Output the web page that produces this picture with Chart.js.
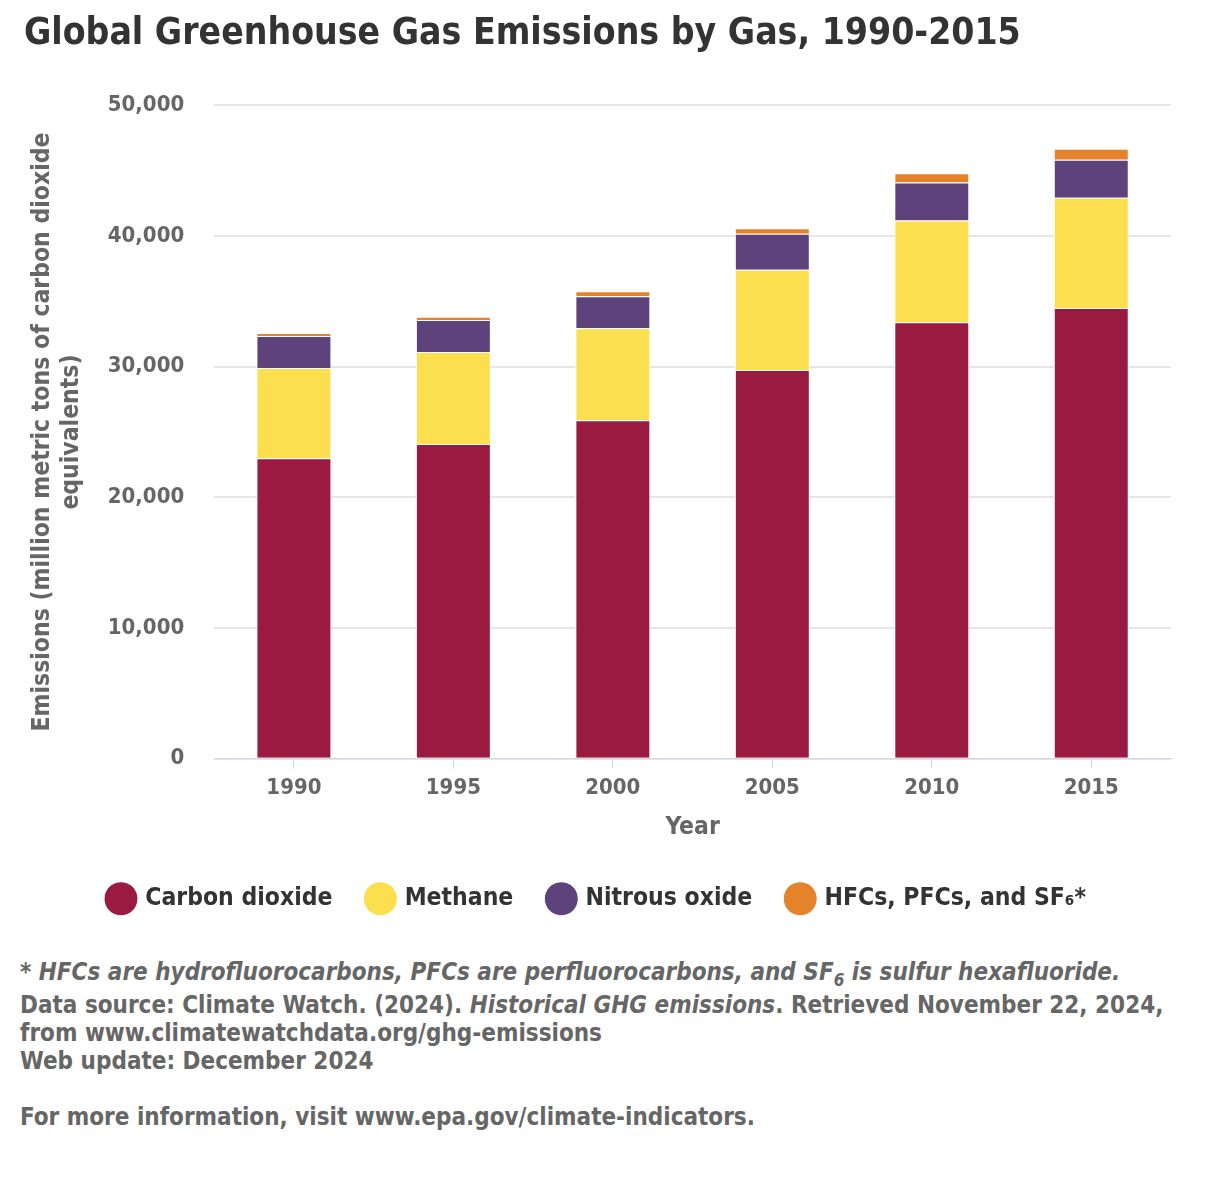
<!DOCTYPE html>
<html>
<head>
<meta charset="utf-8">
<script src="https://cdn.jsdelivr.net/npm/chart.js@4"></script>
<style>
	body { margin: 0; background: #fff; font-family: "DejaVu Sans Condensed", "DejaVu Sans", sans-serif; }
	#wrap { position: relative; width: 1213px; height: 929px; }
	.notes { margin: 29px 0 0 20px; color: #666; font-size: 24px; font-weight: bold; line-height: 28px; width: 1175px; }
	.notes p { margin: 0; }
	.notes p.first { margin-bottom: 5px; }
	.notes sub { font-size: 17px; line-height: 0; }
	.gap { height: 28px; }
</style>
</head>
<body>
<div id="wrap"><canvas id="canvas"></canvas></div>
<div class="notes">
	<p class="first"><i>* HFCs are hydrofluorocarbons, PFCs are perfluorocarbons, and SF<sub>6</sub> is sulfur hexafluoride.</i></p>
	<p>Data source: Climate Watch. (2024). <i>Historical GHG emissions</i>. Retrieved November 22, 2024, from www.climatewatchdata.org/ghg-emissions</p>
	<p>Web update: December 2024</p>
	<div class="gap"></div>
	<p>For more information, visit www.epa.gov/climate-indicators.</p>
</div>
<script>
const years = ["1990", "1995", "2000", "2005", "2010", "2015"];
const carbonDioxide = [23000, 24080, 25900, 29750, 33400, 34500];
const methane = [6900, 7050, 7050, 7670, 7800, 8440];
const nitrousOxide = [2450, 2450, 2450, 2760, 2900, 2900];
const fluorinated = [230, 250, 380, 420, 700, 850];

const FONT = "DejaVu Sans Condensed";
const context = document.getElementById("canvas").getContext("2d");

function makeSet(label, data, color) {
	return {
		label: label,
		data: data,
		backgroundColor: color,
		borderColor: "#ffffff",
		borderWidth: 1,
		categoryPercentage: 1,
		barPercentage: 0.47,
	};
}

new Chart(context, {
	type: "bar",
	data: {
		labels: years,
		datasets: [
			makeSet("Carbon dioxide", carbonDioxide, "#9b1a41"),
			makeSet("Methane", methane, "#fcdf4f"),
			makeSet("Nitrous oxide", nitrousOxide, "#5d427b"),
			makeSet("HFCs, PFCs, and SF\u2086*", fluorinated, "#e5832a"),
		],
	},
	options: {
		responsive: true,
		maintainAspectRatio: false,
		animation: false,
		layout: { padding: { left: 24, right: 42, top: 10, bottom: 8 } },
		plugins: {
			title: {
				display: true,
				text: "Global Greenhouse Gas Emissions by Gas, 1990-2015",
				align: "start",
				color: "#333333",
				font: { family: FONT, size: 37, weight: "bold" },
				padding: { top: 2, bottom: 49 },
			},
			legend: {
				position: "bottom",
				labels: {
					usePointStyle: true,
					pointStyle: "circle",
					boxWidth: 24,
					boxHeight: 24,
					padding: 36,
					color: "#333333",
					font: { family: FONT, size: 24.5, weight: "bold" },
				},
			},
			tooltip: { enabled: false },
		},
		scales: {
			x: {
				stacked: true,
				grid: { drawOnChartArea: false, drawTicks: true, tickLength: 10, tickColor: "#ccd6eb", offset: false },
				border: { color: "#ccd6eb", width: 1 },
				ticks: { color: "#666666", padding: 6, font: { family: FONT, size: 22, weight: "bold" } },
				title: {
					display: true,
					text: "Year",
					color: "#666666",
					font: { family: FONT, size: 24.5, weight: "bold" },
					padding: { top: 6, bottom: 8 },
				},
			},
			y: {
				stacked: true,
				min: 0,
				max: 50000,
				ticks: {
					stepSize: 10000,
					color: "#666666",
					padding: 30,
					font: { family: FONT, size: 22, weight: "bold" },
					callback: (v) => v.toLocaleString("en-US"),
				},
				grid: { color: "#e6e6e6", lineWidth: 2, drawTicks: false },
				border: { display: false },
				title: {
					display: true,
					text: ["Emissions (million metric tons of carbon dioxide", "equivalents)"],
					color: "#666666",
					font: { family: FONT, size: 24.5, weight: "bold" },
					padding: { top: 4, bottom: -9 },
				},
			},
		},
	},
});
</script>
</body>
</html>
